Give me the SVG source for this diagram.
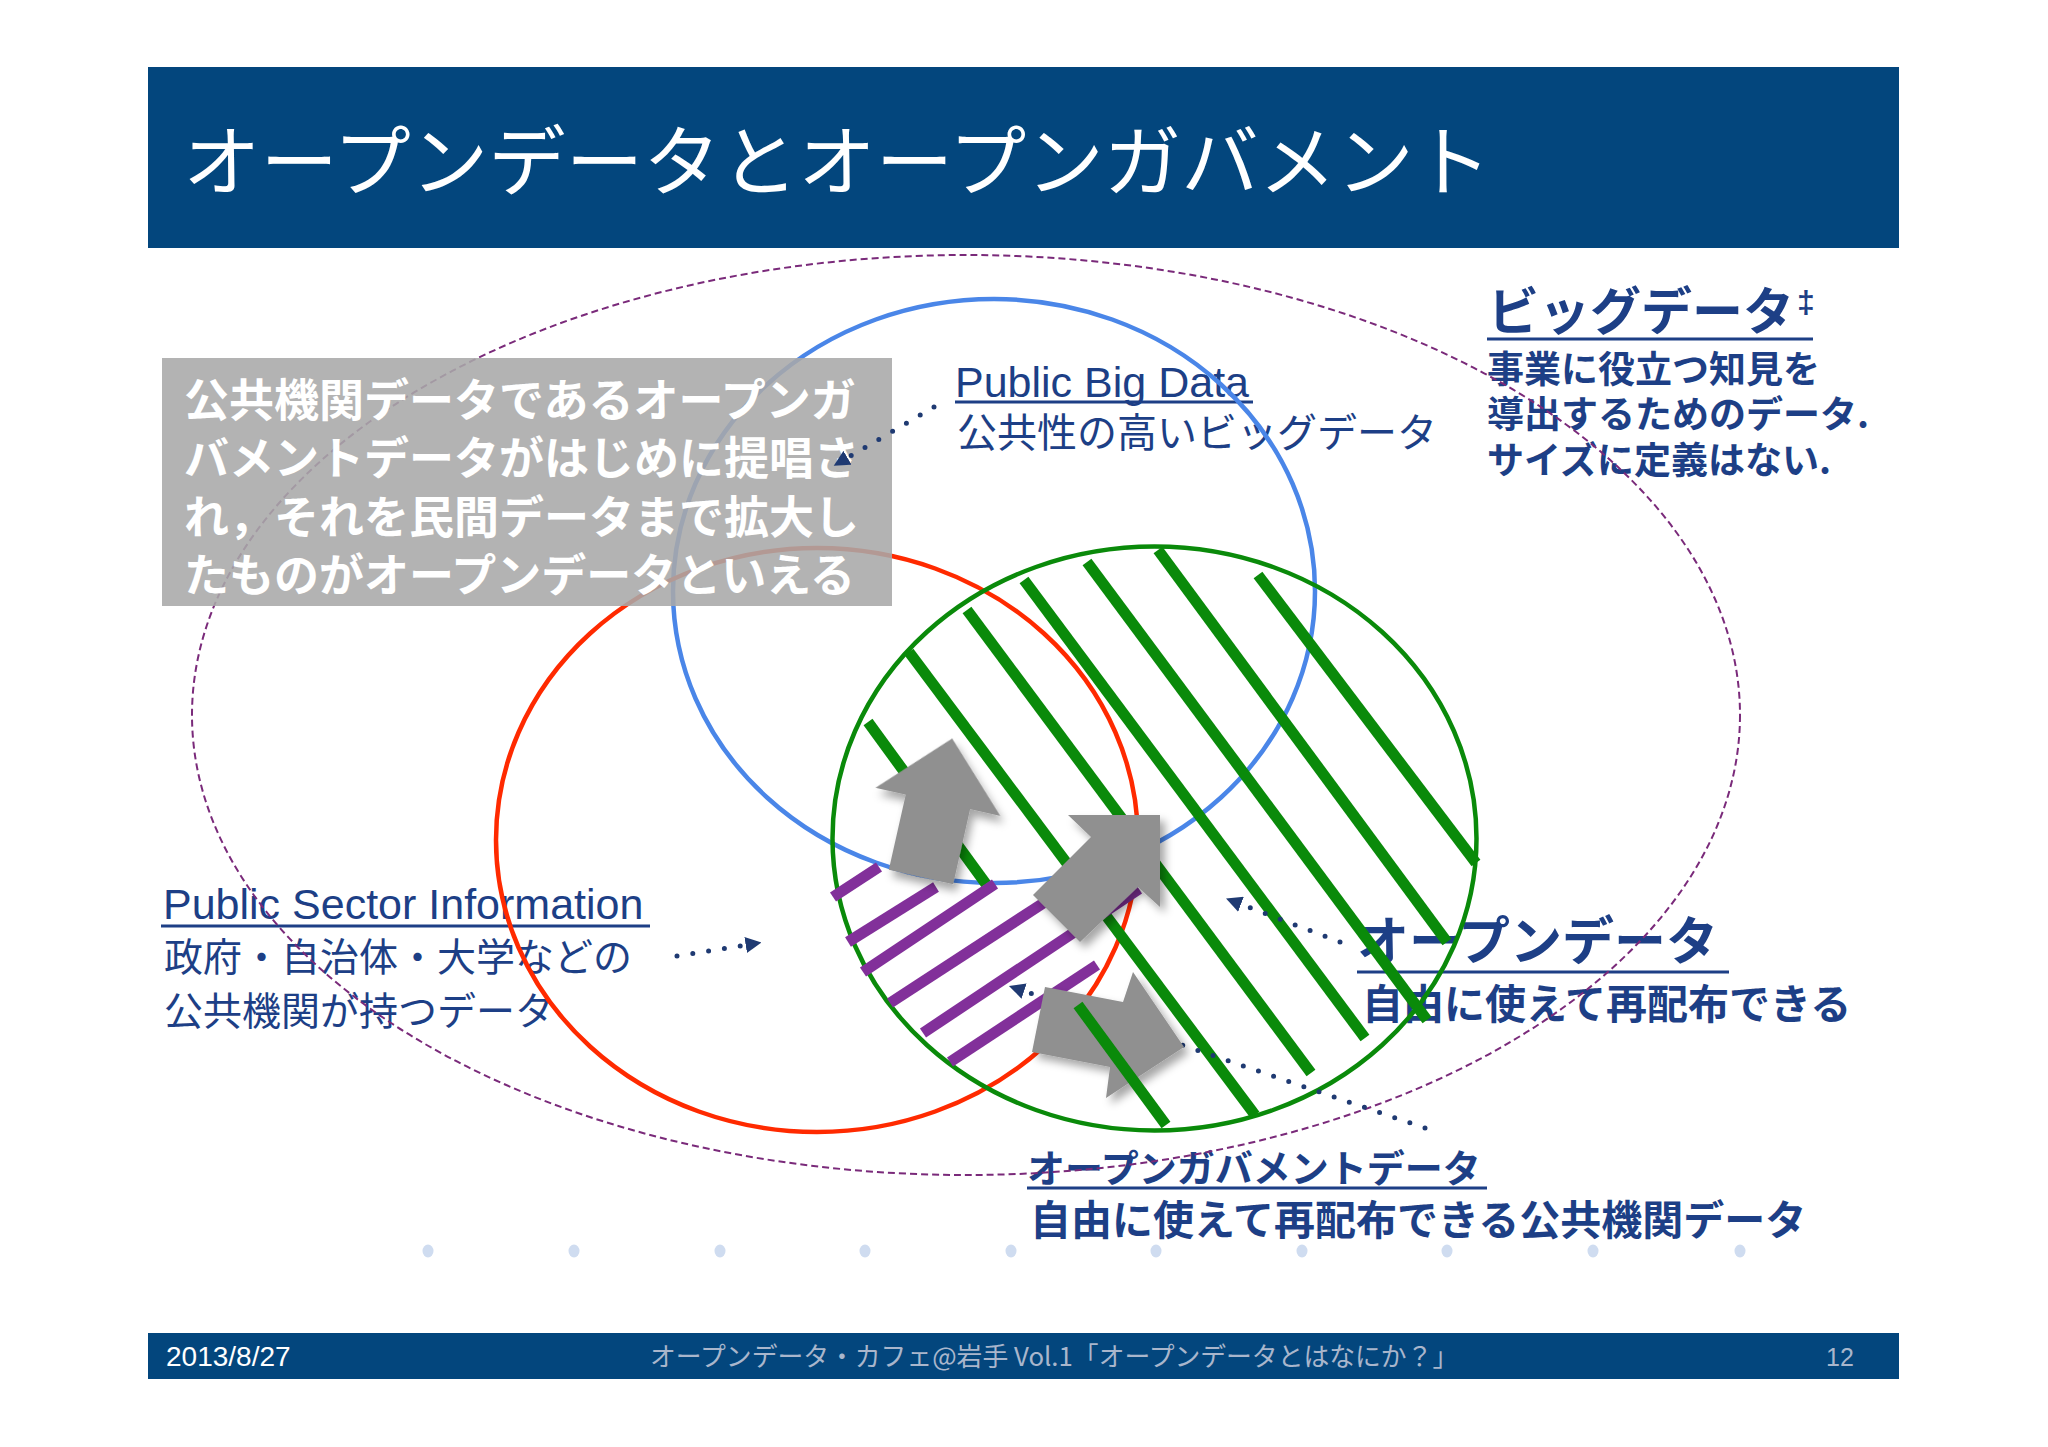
<svg xmlns="http://www.w3.org/2000/svg" width="2048" height="1447" viewBox="0 0 2048 1447">
<defs>
<style>
.bar{fill:#03467d}
.jp{font-family:"Noto Sans CJK JP","Noto Sans",sans-serif}
.lat{font-family:"Liberation Sans",Arial,sans-serif}
.navy{fill:#1d3f86}
.b{font-weight:bold}
.ul{stroke:#1d3f86;stroke-width:3}
.gh{stroke:#0a8a0a;stroke-width:11;fill:none}
.ph{stroke:#82309a;stroke-width:11;fill:none}
.blk{fill:#909090;filter:url(#sh)}
.dot{stroke:#1f3a72;stroke-width:5;stroke-linecap:round;stroke-dasharray:0 16;fill:none;marker-end:url(#tri)}
.bd{fill:#cfdcf0}
</style>
<filter id="sh" x="-30%" y="-30%" width="170%" height="170%">
<feDropShadow dx="5" dy="6" stdDeviation="4" flood-color="#000" flood-opacity="0.35"/>
</filter>
<marker id="tri" viewBox="0 0 10 10" refX="4" refY="5" markerWidth="3.2" markerHeight="3.2" orient="auto">
<path d="M0,0 L10,5 L0,10 z" fill="#1f3a72"/>
</marker>
</defs>
<rect width="2048" height="1447" fill="#ffffff"/>

<g id="title">
<rect class="bar" x="148" y="67" width="1751" height="181"/>
<text class="jp" x="183" y="190" font-size="77.5" fill="#ffffff">オープンデータとオープンガバメント</text>
</g>

<g id="label-bigdata">
<text class="jp b navy" x="1488" y="330" font-size="51">ビッグデータ</text>
<text class="lat b navy" x="1797" y="313" font-size="32">‡</text>
<line class="ul" x1="1487" y1="339" x2="1813" y2="339"/>
<text class="jp b navy" font-size="37"><tspan x="1487" y="383">事業に役立つ知見を</tspan><tspan x="1487" y="428">導出するためのデータ.</tspan><tspan x="1487" y="474">サイズに定義はない.</tspan></text>
</g>

<g id="label-publicbigdata">
<text class="lat navy" x="955" y="397" font-size="43">Public Big Data</text>
<line class="ul" x1="955" y1="402" x2="1253" y2="402"/>
<text class="jp navy" x="957" y="447" font-size="40">公共性の高いビッグデータ</text>
</g>

<g id="label-psi">
<text class="lat navy" x="163" y="919" font-size="43">Public Sector Information</text>
<line class="ul" x1="161" y1="926" x2="650" y2="926"/>
<text class="jp navy" font-size="39"><tspan x="164" y="971">政府・自治体・大学などの</tspan><tspan x="164" y="1025">公共機関が持つデータ</tspan></text>
</g>

<g id="label-opendata">
<text class="jp b navy" x="1357" y="960" font-size="52">オープンデータ</text>
<line class="ul" x1="1357" y1="972" x2="1729" y2="972"/>
<text class="jp b navy" x="1362" y="1019" font-size="41">自由に使えて再配布できる</text>
</g>

<g id="label-ogd">
<text class="jp b navy" x="1027" y="1182" font-size="38">オープンガバメントデータ</text>
<line class="ul" x1="1027" y1="1188" x2="1487" y2="1188"/>
<text class="jp b navy" x="1030" y="1235" font-size="41">自由に使えて再配布できる公共機関データ</text>
</g>

<g id="set-bigdata">
<ellipse cx="966" cy="715" rx="774" ry="460" fill="none" stroke="#7a2a7a" stroke-width="2" stroke-dasharray="7 4"/>
</g>
<g id="set-publicbigdata">
<ellipse cx="994" cy="591" rx="321" ry="292" fill="none" stroke="#4a86e8" stroke-width="4.5"/>
</g>
<g id="set-psi">
<ellipse cx="817" cy="840" rx="321" ry="292" fill="none" stroke="#ff2a00" stroke-width="4.5"/>
</g>
<g id="set-opendata">
<ellipse cx="1154.5" cy="838.5" rx="322" ry="292" fill="none" stroke="#0a8a0a" stroke-width="4.5"/>
</g>

<g id="hatch-opendata">
<line class="gh" x1="868" y1="722" x2="986" y2="884"/>
<line class="gh" x1="909" y1="652" x2="1255" y2="1115"/>
<line class="gh" x1="967" y1="610" x2="1311" y2="1073"/>
<line class="gh" x1="1024" y1="580" x2="1365" y2="1038"/>
<line class="gh" x1="1087" y1="562" x2="1427" y2="1020"/>
<line class="gh" x1="1158" y1="550" x2="1447" y2="942"/>
<line class="gh" x1="1258" y1="575" x2="1476" y2="863"/>
</g>
<g id="hatch-ogd">
<line class="ph" x1="833" y1="897" x2="879" y2="867"/>
<line class="ph" x1="848" y1="942" x2="936" y2="887"/>
<line class="ph" x1="863" y1="972" x2="995" y2="884"/>
<line class="ph" x1="890" y1="1003" x2="1045" y2="902"/>
<line class="ph" x1="923" y1="1033" x2="1139" y2="889"/>
<line class="ph" x1="950" y1="1062" x2="1097" y2="965"/>
</g>

<g id="note-box">
<rect x="162" y="358" width="730" height="248" fill="#a9a9a9" fill-opacity="0.88"/>
<text class="jp b" fill="#ffffff" font-size="45"><tspan x="184" y="417">公共機関データであるオープンガ</tspan><tspan x="184" y="475">バメントデータがはじめに提唱さ</tspan><tspan x="184" y="534">れ，それを民間データまで拡大し</tspan><tspan x="184" y="592">たものがオープンデータといえる</tspan></text>
</g>

<g id="connectors">
<path class="dot" d="M934,407 L842,461"/>
<path class="dot" d="M677,956 L752,944"/>
<path class="dot" d="M1340,942 L1235,902"/>
<path class="dot" d="M1425,1128 L1018,989"/>
</g>

<g id="block-arrows">
<polygon class="blk" transform="translate(921,877) rotate(12.7)" points="-33,0 33,0 33,-77 64,-77 0,-142 -64,-77 -33,-77"/>
<polygon class="blk" points="1068,815 1160,815 1160,907 1138,887 1080,942 1033,895 1091,837"/>
<polygon class="blk" points="1045,987 1123,1002 1133,972 1184,1047 1106,1098 1110,1067 1032,1052"/>
</g>
<line class="gh" x1="1078" y1="1005" x2="1166" y2="1125"/>

<g id="footer">
<rect class="bar" x="148" y="1333" width="1751" height="46"/>
<text class="lat" x="166" y="1366" font-size="28" fill="#ffffff">2013/8/27</text>
<text class="jp" x="650" y="1366" font-size="25.8" fill="#a9b6cc">オープンデータ・カフェ@岩手 Vol.1「オープンデータとはなにか？」</text>
<text class="lat" x="1826" y="1366" font-size="25" fill="#a9b6cc">12</text>
</g>

<g id="dots">
<ellipse class="bd" cx="428" cy="1251" rx="5.5" ry="6.5"/>
<ellipse class="bd" cx="574" cy="1251" rx="5.5" ry="6.5"/>
<ellipse class="bd" cx="720" cy="1251" rx="5.5" ry="6.5"/>
<ellipse class="bd" cx="865" cy="1251" rx="5.5" ry="6.5"/>
<ellipse class="bd" cx="1011" cy="1251" rx="5.5" ry="6.5"/>
<ellipse class="bd" cx="1156" cy="1251" rx="5.5" ry="6.5"/>
<ellipse class="bd" cx="1302" cy="1251" rx="5.5" ry="6.5"/>
<ellipse class="bd" cx="1447" cy="1251" rx="5.5" ry="6.5"/>
<ellipse class="bd" cx="1593" cy="1251" rx="5.5" ry="6.5"/>
<ellipse class="bd" cx="1740" cy="1251" rx="5.5" ry="6.5"/>
</g>
</svg>
